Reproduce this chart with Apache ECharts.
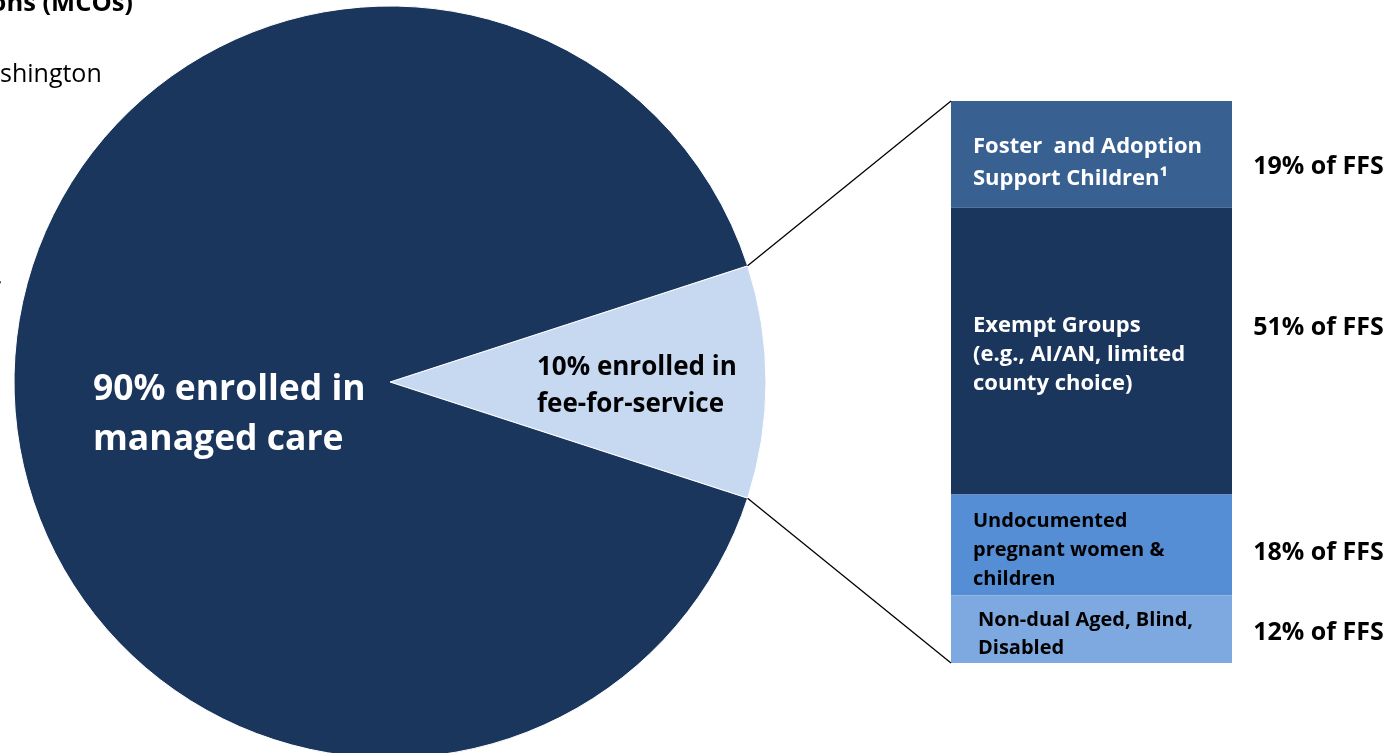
<!DOCTYPE html>
<html><head><meta charset="utf-8">
<script src="https://cdn.jsdelivr.net/npm/echarts@6/dist/echarts.min.js"></script>
<style>html,body{margin:0;padding:0;background:#fff}#c{width:1392px;height:753px}</style>
</head><body><div id="c"></div>
<script>
// Pie: enrollment split
var pieNames = ['10% enrolled in\nfee-for-service', '90% enrolled in\nmanaged care'];
var pieValues = [10, 90];
// FFS breakdown (percent of FFS)
var ffsGroups = ['Foster  and Adoption\nSupport Children¹', 'Exempt Groups\n(e.g., AI/AN, limited\ncounty choice)', 'Undocumented\npregnant women &\nchildren', 'Non-dual Aged, Blind,\nDisabled'];
var ffsValues = [19, 51, 18, 12];
var ffsRightLabels = ['19% of FFS', '51% of FFS', '18% of FFS', '12% of FFS'];

var FONT = '"Open Sans"';
var pieCenter = [390, 382], pieR = 376;
var startAngle = pieValues[0] / 100 * 360 / 2;
var segColors = ['#386192', '#1b365d', '#558ed5', '#7ea9e0'];
var segTextColors = ['#fff', '#fff', '#000', '#000'];
var segFont = [22, 22, 20, 20];
var segLH = [32, 29, 29, 28];
var segOffsets = [[0, 8], [0, 4], [0, 5], [5, 5]];
var rightOffsets = [[0, 12], [0, -23], [0, 8], [0, 4]];
var barGrid = { left: 951, top: 101, width: 281, height: 562 };

var chart = echarts.init(document.getElementById('c'));

var barSeries = ffsValues.map(function (v, i) {
  return {
    type: 'bar', stack: 'ffs', xAxisIndex: 0, yAxisIndex: 0, barWidth: '100%',
    data: [v], itemStyle: { color: segColors[i] }, silent: true,
    label: {
      show: true, position: 'insideLeft', distance: 22, offset: segOffsets[i],
      formatter: ffsGroups[i], color: segTextColors[i], fontFamily: FONT,
      fontWeight: 'bold', fontSize: segFont[i], lineHeight: segLH[i], align: 'left'
    }
  };
});
var rightSeries = ffsValues.map(function (v, i) {
  return {
    type: 'bar', stack: 'ffsR', xAxisIndex: 1, yAxisIndex: 1, barWidth: '100%',
    data: [v], itemStyle: { color: 'transparent' }, silent: true,
    label: {
      show: true, position: 'inside', offset: rightOffsets[i], formatter: ffsRightLabels[i],
      color: '#000', fontFamily: FONT, fontWeight: 'bold', fontSize: 25
    }
  };
});

// connector lines from FFS slice edges to the stacked bar corners
var a = startAngle * Math.PI / 180;
var p1 = [pieCenter[0] + pieR * Math.cos(a), pieCenter[1] - pieR * Math.sin(a)];
var p2 = [pieCenter[0] + pieR * Math.cos(a), pieCenter[1] + pieR * Math.sin(a)];

chart.setOption({
  animation: false,
  grid: [
    barGrid,
    { left: 1245, top: 101, width: 150, height: 562 }
  ],
  xAxis: [
    { type: 'category', data: ['FFS'], show: false, gridIndex: 0 },
    { type: 'category', data: ['FFS'], show: false, gridIndex: 1 }
  ],
  yAxis: [
    { type: 'value', min: 0, max: 100, inverse: true, show: false, gridIndex: 0 },
    { type: 'value', min: 0, max: 100, inverse: true, show: false, gridIndex: 1 }
  ],
  series: [{
    type: 'pie', center: pieCenter, radius: [0, pieR], startAngle: startAngle,
    clockwise: true, silent: true,
    data: [
      { name: pieNames[0], value: pieValues[0], label: { color: '#000', fontSize: 26, lineHeight: 37 } },
      { name: pieNames[1], value: pieValues[1], label: { color: '#fff', fontSize: 35.5, lineHeight: 50 } }
    ],
    itemStyle: { borderColor: '#fff', borderWidth: 1 },
    color: ['#c6d9f1', '#1b365d'],
    label: {
      show: true, position: 'inside', formatter: '{b}', fontFamily: FONT, fontWeight: 'bold'
    },
    labelLine: { show: false },
    labelLayout: function (p) {
      if (p.dataIndex === 0) return { dx: -44, dy: 4, align: 'left', verticalAlign: 'middle' };
      return { dx: -106, dy: 33, align: 'left', verticalAlign: 'middle' };
    },
    emphasis: { disabled: true }
  }].concat(barSeries).concat(rightSeries),
  graphic: [
    { type: 'line', shape: { x1: p1[0], y1: p1[1], x2: barGrid.left, y2: barGrid.top }, style: { stroke: '#000', lineWidth: 1.3 }, z: 10 },
    { type: 'line', shape: { x1: p2[0], y1: p2[1], x2: barGrid.left, y2: barGrid.top + barGrid.height }, style: { stroke: '#000', lineWidth: 1.3 }, z: 10 },
    { type: 'text', right: 1392 - 133, top: -9, style: { text: 'ons (MCOs)', font: 'bold 25.5px ' + FONT, fill: '#000' } },
    { type: 'text', left: 0, top: 62, style: { text: 'shington', font: '25px ' + FONT, fill: '#000' } },
    { type: 'text', left: -4, top: 264, style: { text: '.', font: '25px ' + FONT, fill: '#000' } }
  ]
});
</script></body></html>
